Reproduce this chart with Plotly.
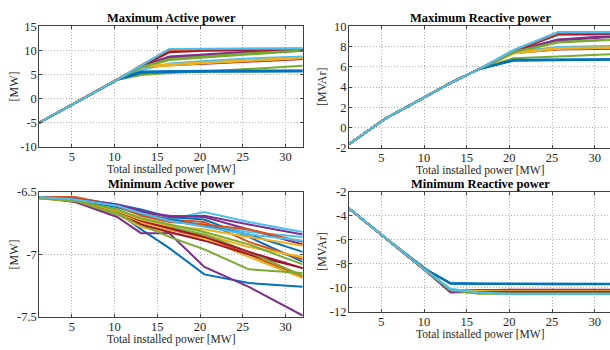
import plotly.graph_objects as go

# ---------------- data ----------------
x_power = [1.2, 5.4, 10.3, 13.1, 16.4, 20.5, 25.7, 32.0]
x_ticks = [5, 10, 15, 20, 25, 30]
colors = ["#0072BD", "#D95319", "#EDB120", "#7E2F8E", "#77AC30", "#4DBEEE", "#A2142F"]

max_active = [
    [-5.0, -0.85, 3.9, 5.4, 5.6, 5.65, 5.7, 5.75],
    [-5.0, -0.85, 3.9, 6.6, 7.0, 7.35, 7.75, 8.3],
    [-5.0, -0.85, 3.9, 6.6, 7.0, 7.4, 7.9, 8.4],
    [-5.0, -0.85, 3.9, 6.6, 8.5, 9.0, 9.6, 10.0],
    [-5.0, -0.85, 3.9, 4.9, 5.3, 5.6, 6.2, 6.8],
    [-5.0, -0.85, 3.9, 5.9, 7.3, 7.8, 8.3, 8.7],
    [-5.0, -0.85, 3.9, 6.5, 6.9, 7.2, 7.6, 8.2],
    [-5.0, -0.85, 3.9, 5.3, 5.5, 5.55, 5.6, 5.6],
    [-5.0, -0.85, 3.9, 6.8, 9.9, 10.0, 10.05, 10.1],
    [-5.0, -0.85, 3.9, 6.5, 6.9, 7.3, 7.8, 8.35],
    [-5.0, -0.85, 3.9, 6.7, 8.7, 9.1, 9.7, 10.0],
    [-5.0, -0.85, 3.9, 6.4, 8.0, 8.5, 9.2, 9.9],
    [-5.0, -0.85, 3.9, 6.85, 10.2, 10.3, 10.35, 10.4],
    [-5.0, -0.85, 3.9, 6.7, 9.6, 9.9, 10.0, 10.05],
    [-5.0, -0.85, 3.9, 5.6, 5.7, 5.75, 5.8, 5.8],
    [-5.0, -0.85, 3.9, 6.9, 10.1, 10.2, 10.25, 10.3],
    [-5.0, -0.85, 3.9, 6.7, 7.1, 7.5, 7.95, 8.45],
    [-5.0, -0.85, 3.9, 6.6, 8.3, 8.9, 9.5, 9.9],
    [-5.0, -0.85, 3.9, 6.5, 8.2, 8.7, 9.4, 9.95],
    [-5.0, -0.85, 3.9, 6.85, 10.3, 10.35, 10.4, 10.45],
]

max_reactive = [
    [-1.65, 0.85, 3.1, 4.4, 5.75, 6.65, 6.7, 6.72],
    [-1.65, 0.85, 3.1, 4.4, 5.75, 7.4, 7.75, 7.82],
    [-1.65, 0.85, 3.1, 4.4, 5.75, 7.35, 7.8, 7.9],
    [-1.65, 0.85, 3.1, 4.4, 5.75, 7.5, 8.65, 9.0],
    [-1.65, 0.85, 3.1, 4.4, 5.75, 6.85, 7.0, 7.25],
    [-1.65, 0.85, 3.1, 4.4, 5.75, 7.5, 7.95, 8.05],
    [-1.65, 0.85, 3.1, 4.4, 5.75, 7.35, 7.7, 7.78],
    [-1.65, 0.85, 3.1, 4.4, 5.75, 6.6, 6.65, 6.68],
    [-1.65, 0.85, 3.1, 4.4, 5.75, 7.55, 9.25, 9.3],
    [-1.65, 0.85, 3.1, 4.4, 5.75, 7.3, 7.75, 7.85],
    [-1.65, 0.85, 3.1, 4.4, 5.75, 7.55, 8.7, 9.05],
    [-1.65, 0.85, 3.1, 4.4, 5.75, 7.4, 8.4, 8.65],
    [-1.65, 0.85, 3.1, 4.4, 5.75, 7.6, 9.1, 9.15],
    [-1.65, 0.85, 3.1, 4.4, 5.75, 7.5, 9.2, 9.25],
    [-1.65, 0.85, 3.1, 4.4, 5.75, 6.7, 6.72, 6.75],
    [-1.65, 0.85, 3.1, 4.4, 5.75, 7.6, 9.3, 9.35],
    [-1.65, 0.85, 3.1, 4.4, 5.75, 7.4, 7.85, 7.92],
    [-1.65, 0.85, 3.1, 4.4, 5.75, 7.45, 8.6, 8.95],
    [-1.65, 0.85, 3.1, 4.4, 5.75, 7.45, 8.45, 8.7],
    [-1.65, 0.85, 3.1, 4.4, 5.75, 7.65, 9.43, 9.43],
]

min_active = [
    [-6.54, -6.56, -6.66, -6.80, -6.95, -7.16, -7.23, -7.26],
    [-6.54, -6.57, -6.64, -6.74, -6.80, -6.86, -7.00, -7.18],
    [-6.55, -6.58, -6.68, -6.78, -6.83, -6.87, -7.02, -7.19],
    [-6.54, -6.58, -6.70, -6.83, -6.83, -7.10, -7.26, -7.49],
    [-6.55, -6.57, -6.68, -6.76, -6.86, -6.96, -7.12, -7.15],
    [-6.54, -6.55, -6.60, -6.66, -6.72, -6.66, -6.74, -6.82],
    [-6.54, -6.57, -6.65, -6.76, -6.82, -6.89, -7.00, -7.11],
    [-6.54, -6.55, -6.60, -6.64, -6.70, -6.72, -6.86, -7.06],
    [-6.54, -6.55, -6.61, -6.67, -6.72, -6.74, -6.90, -7.04],
    [-6.55, -6.57, -6.66, -6.74, -6.80, -6.84, -6.94, -7.02],
    [-6.54, -6.56, -6.61, -6.66, -6.69, -6.70, -6.80, -6.92],
    [-6.55, -6.57, -6.66, -6.72, -6.78, -6.84, -6.98, -7.17],
    [-6.54, -6.56, -6.62, -6.68, -6.73, -6.76, -6.82, -6.86],
    [-6.54, -6.57, -6.65, -6.73, -6.79, -6.86, -6.98, -7.11],
    [-6.54, -6.56, -6.62, -6.68, -6.72, -6.77, -6.84, -6.98],
    [-6.54, -6.54, -6.61, -6.69, -6.74, -6.76, -6.80, -6.90],
    [-6.55, -6.57, -6.65, -6.72, -6.77, -6.80, -6.86, -6.93],
    [-6.54, -6.56, -6.60, -6.65, -6.70, -6.69, -6.76, -6.84],
    [-6.55, -6.57, -6.64, -6.71, -6.76, -6.82, -6.92, -7.08],
    [-6.54, -6.56, -6.61, -6.67, -6.73, -6.78, -6.84, -6.89],
]

min_reactive = [
    [-3.41, -5.81, -8.50, -9.62, -9.65, -9.68, -9.70, -9.68],
    [-3.41, -5.81, -8.61, -10.25, -10.20, -10.20, -10.20, -10.20],
    [-3.41, -5.81, -8.61, -10.15, -10.25, -10.25, -10.25, -10.25],
    [-3.41, -5.81, -8.61, -10.35, -10.30, -10.30, -10.30, -10.30],
    [-3.41, -5.81, -8.61, -10.20, -10.45, -10.45, -10.45, -10.45],
    [-3.41, -5.81, -8.61, -10.10, -10.35, -10.50, -10.50, -10.50],
    [-3.41, -5.81, -8.61, -10.30, -10.20, -10.15, -10.15, -10.15],
    [-3.41, -5.81, -8.50, -9.65, -9.68, -9.70, -9.72, -9.70],
    [-3.41, -5.81, -8.61, -10.22, -10.22, -10.22, -10.22, -10.22],
    [-3.41, -5.81, -8.61, -10.18, -10.27, -10.27, -10.27, -10.27],
    [-3.41, -5.81, -8.61, -10.33, -10.32, -10.32, -10.32, -10.32],
    [-3.41, -5.81, -8.61, -10.22, -10.47, -10.47, -10.47, -10.47],
    [-3.41, -5.81, -8.61, -10.12, -10.38, -10.52, -10.52, -10.52],
    [-3.41, -5.81, -8.61, -10.28, -10.18, -10.17, -10.17, -10.17],
    [-3.41, -5.81, -8.50, -9.60, -9.63, -9.65, -9.67, -9.65],
    [-3.41, -5.81, -8.61, -10.24, -10.21, -10.21, -10.21, -10.21],
    [-3.41, -5.81, -8.61, -10.16, -10.26, -10.26, -10.26, -10.26],
    [-3.41, -5.81, -8.61, -10.36, -10.31, -10.31, -10.31, -10.31],
    [-3.41, -5.81, -8.61, -10.21, -10.46, -10.46, -10.46, -10.46],
    [-3.41, -5.81, -8.61, -10.11, -10.37, -10.51, -10.51, -10.51],
]

titles = ["Maximum Active power", "Maximum Reactive power",
          "Minimum Active power", "Minimum Reactive power"]
x_title = "Total installed power [MW]"
y_titles = ["[MW]", "[MVAr]", "[MW]", "[MVAr]"]

# ---------------- figure ----------------
W, H = 610, 350
FONT = "Liberation Serif"
INK = "#262626"

fig = go.Figure()
datasets = [max_active, max_reactive, min_active, min_reactive]
for k, data in enumerate(datasets):
    sfx = "" if k == 0 else str(k + 1)
    for i, ys in enumerate(data):
        fig.add_trace(go.Scatter(
            x=x_power, y=ys, mode="lines",
            line=dict(color=colors[i % len(colors)], width=2),
            xaxis="x" + sfx, yaxis="y" + sfx, showlegend=False,
            hoverinfo="skip"))

# pixel boxes: (left, right, top, bottom)
boxes = [(39.3, 302.7, 20.0, 145.7),
         (349.0, 610.0, 20.0, 146.7),
         (39.3, 302.7, 192.7, 322.7),
         (349.0, 610.0, 192.3, 317.7)]
xranges = [[1.2, 32.0], [1.2, 31.8], [1.2, 32.0], [1.2, 31.8]]
yranges = [[-10, 15], [-2, 10], [-7.5, -6.5], [-12, -2]]
ytickvals = [[-10, -5, 0, 5, 10, 15], [-2, 0, 2, 4, 6, 8, 10],
             [-7.5, -7, -6.5], [-12, -10, -8, -6, -4, -2]]
yticktext = [["-10", "-5", "0", "5", "10", "15"],
             ["-2", "0", "2", "4", "6", "8", "10"],
             ["-7.5", "-7", "-6.5"],
             ["-12", "-10", "-8", "-6", "-4", "-2"]]

tickfont = dict(family=FONT, size=12.5, color=INK)
common = dict(showline=True, linecolor="#404040", linewidth=1,
              ticks="inside", ticklen=3, tickcolor="#404040", tickwidth=1,
              showgrid=True, gridcolor="#b0b0b0", gridwidth=1, griddash="1px,2px",
              zeroline=False, tickfont=tickfont, fixedrange=True)

annotations = []
for k, (l, r, t, b) in enumerate(boxes):
    sfx = "" if k == 0 else str(k + 1)
    right_col = k in (1, 3)
    xd = [l / W, min(r / W, 1.0)]
    yd = [1 - b / H, 1 - t / H]
    fig.layout["xaxis" + sfx] = dict(
        common, domain=xd, range=xranges[k], tickvals=x_ticks,
        anchor="y" + sfx, mirror="ticks", ticklabelstandoff=-2)
    fig.layout["yaxis" + sfx] = dict(
        common, domain=yd, range=yranges[k], tickvals=ytickvals[k],
        ticktext=yticktext[k], anchor="x" + sfx, ticklabelstandoff=-1,
        mirror=False if right_col else "ticks")
    cx = (l + (612.0 if right_col else r)) / 2
    cy = (t + b) / 2
    annotations.append(dict(text="<b>" + titles[k] + "</b>", x=cx / W, y=1 - (t - 8.3) / H,
                            xref="paper", yref="paper", showarrow=False,
                            xanchor="center", yanchor="middle",
                            font=dict(family=FONT, size=12.5, color="#000000")))
    annotations.append(dict(text=x_title, x=cx / W, y=1 - (b + 23.5) / H,
                            xref="paper", yref="paper", showarrow=False,
                            xanchor="center", yanchor="middle",
                            font=dict(family=FONT, size=11.5, color=INK)))
    yx = 14.0 if not right_col else 322.0
    annotations.append(dict(text=y_titles[k], x=yx / W, y=1 - cy / H,
                            xref="paper", yref="paper", showarrow=False,
                            xanchor="center", yanchor="middle", textangle=-90,
                            font=dict(family=FONT, size=12, color=INK)))

fig.update_layout(width=W, height=H, margin=dict(l=0, r=0, t=0, b=0),
                  paper_bgcolor="white", plot_bgcolor="white",
                  font=dict(family=FONT, color=INK),
                  annotations=annotations, showlegend=False)

fig.write_html("out.html", config={"displayModeBar": False},
               post_script="document.body.style.margin='0';document.body.style.padding='0';")
